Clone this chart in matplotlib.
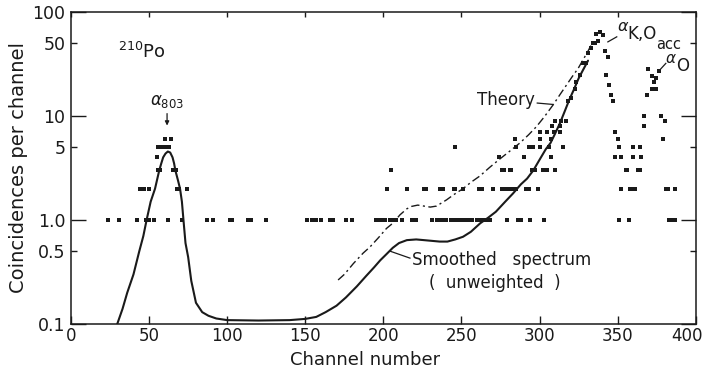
import matplotlib
matplotlib.use("Agg")
import matplotlib.pyplot as plt
import matplotlib.transforms as mtransforms
from matplotlib.ticker import FixedLocator, FixedFormatter, NullLocator

# ---- smoothed (unweighted) spectrum, read channel by channel ----
smooth_ch = [29.6, 33, 36, 40, 43.7, 46.3, 48.4, 51, 53.8, 56.5, 57.8, 59, 60.5, 62, 63.5, 65,
             66, 66.8, 68.5, 69.8, 71, 72, 73.3, 75, 77, 80, 84, 88, 93, 100, 120, 140, 150,
             157, 163, 170, 176, 183, 189, 194, 198, 202, 206, 210, 215, 221, 226, 231,
             236, 241, 246, 251, 256, 262, 267, 272, 278, 283, 288, 292, 296, 300, 304,
             307, 310, 313, 316, 319, 322, 325, 328, 331]
smooth_val = [0.1, 0.14, 0.2, 0.3, 0.5, 0.7, 1.0, 1.5, 2.0, 3.0, 3.5, 4.0, 4.35, 4.55, 4.45, 4.0,
              3.5, 3.0, 2.4, 2.0, 1.5, 1.0, 0.6, 0.44, 0.26, 0.16, 0.13, 0.12, 0.113, 0.109, 0.108,
              0.109, 0.112, 0.117, 0.13, 0.15, 0.18, 0.23, 0.29, 0.35, 0.41, 0.47, 0.54, 0.6,
              0.64, 0.65, 0.64, 0.63, 0.62, 0.62, 0.65, 0.69, 0.77, 0.93, 1.05, 1.2, 1.5, 1.8,
              2.2, 2.5, 3.0, 3.8, 4.8, 5.5, 6.8, 8.5, 11, 14.3, 18, 23, 28, 34]

# ---- theoretical spectrum ----
theory_ch = [171, 175, 180.7, 187, 191.4, 197, 202, 206, 210.6, 215, 218, 222, 226, 230,
             234, 240.4, 245, 251, 256, 261.8, 268, 274, 281, 287.4, 293, 298, 303, 308.7,
             313, 317.2, 321, 324.7, 328, 331, 333]
theory_val = [0.265, 0.3, 0.38, 0.48, 0.55, 0.68, 0.83, 0.93, 1.12, 1.28, 1.35, 1.39, 1.36,
              1.33, 1.36, 1.56, 1.75, 2.0, 2.3, 2.65, 3.2, 3.8, 4.6, 5.5, 6.6, 7.9, 9.8, 12.8,
              16, 19.8, 24, 28.7, 35, 42, 48]

# ---- measured coincidences per channel ----
ch_1 = [24, 31, 42, 48, 50, 53, 62, 71, 87, 91, 102, 103, 113, 115, 125, 151, 154, 157,
        160, 166, 168, 176, 180, 195, 197, 199, 201, 204, 206, 208, 212, 218, 221, 231,
        234, 236, 238, 240, 243, 245, 247, 249, 251, 253, 255, 257, 260, 262, 264, 266,
        268, 279, 286, 288, 294, 303, 351, 357, 383, 385, 387]
ch_2 = [44, 45, 47, 50, 68, 69, 74, 202, 215, 226, 227, 236, 238, 245, 246, 251, 261, 263,
        270, 276, 277, 279, 281, 283, 285, 291, 293, 299, 352, 358, 359, 361, 381, 382, 387]
ch_3 = [56, 57, 65, 67, 205, 276, 277, 281, 282, 295, 297, 302, 305, 310, 355, 356, 363, 364]
ch_4 = [55, 274, 290, 307, 352, 348, 360, 365]
ch_5 = [56, 58, 60, 63, 246, 285, 293, 295, 296, 300, 306, 315, 351, 360, 364]
ch_6 = [60, 64, 284, 300, 307, 350, 379]
ch_7 = [300, 305, 309, 313, 348]
ch_8 = [308, 313, 367]
ch_9 = [310, 314, 317, 380]
ch_10 = [367, 378]
peak_ch = [318, 320, 322.6, 323.5, 325.8, 327.9, 329.6, 331.1, 333.2, 334.3, 335.4, 336.4,
           337.5, 338.6, 340.3, 341.8, 342.8, 343.9, 344.5, 346, 347,
           368.8, 369.5, 371.7, 371.7, 373.1, 374.8, 374.8, 376.5]
peak_val = [14, 15, 18, 21, 25, 32, 32, 40, 45, 50, 50, 62, 52, 64, 60, 42, 25, 37, 20, 16, 14,
            16, 28, 24, 18, 21, 23, 18, 27]

y_major = [0.1, 1.0, 10, 100]
y_major_labels = ["0.1", "1.0", "10", "100"]
y_minor = [0.5, 5, 50]
y_minor_labels = ["0.5", "5", "50"]
x_ticks = [0, 50, 100, 150, 200, 250, 300, 350, 400]

plt.rcParams["font.family"] = ["DejaVu Sans"]

fig = plt.figure(figsize=(7.10, 3.72), dpi=100)
ax = fig.add_axes([0.1, 0.129, 0.88, 0.839])
ax.set_yscale("log")
ax.set_xlim(0, 400)
ax.set_ylim(0.1, 100)

ink = "#1a1a1a"

ax.plot(smooth_ch, smooth_val, color=ink, lw=1.5, solid_capstyle="round",
        solid_joinstyle="round")
ax.plot(theory_ch, theory_val, color=ink, lw=1.0, dashes=(6, 2.5, 1.5, 2.5))

dot_groups = [(ch_1, 1), (ch_2, 2), (ch_3, 3), (ch_4, 4), (ch_5, 5), (ch_6, 6),
              (ch_7, 7), (ch_8, 8), (ch_9, 9), (ch_10, 10)]
for chans, n in dot_groups:
    ax.plot(chans, [n] * len(chans), ls="none", marker="s", ms=2.4, color=ink, mew=0)
ax.plot(peak_ch, peak_val, ls="none", marker="s", ms=2.4, color=ink, mew=0)

# axes styling
for s in ax.spines.values():
    s.set_linewidth(1.1)
    s.set_color(ink)

ax.yaxis.set_major_locator(FixedLocator(y_major))
ax.yaxis.set_major_formatter(FixedFormatter(y_major_labels))
ax.yaxis.set_minor_locator(FixedLocator(y_minor))
ax.yaxis.set_minor_formatter(FixedFormatter(y_minor_labels))
ax.tick_params(axis="y", which="major", direction="in", length=11, width=1.0,
               right=True, labelsize=12.5, pad=4, colors=ink)
ax.tick_params(axis="y", which="minor", direction="in", length=4.5, width=1.0,
               right=True, labelsize=12.5, pad=4, colors=ink)

ax.set_xticks(x_ticks)
ax.set_xticklabels([str(v) for v in x_ticks])
ax.xaxis.set_minor_locator(NullLocator())
ax.tick_params(axis="x", direction="in", length=6, width=1.0, labelsize=12, pad=2,
               colors=ink)
# keep the last channel label inside the figure
last = ax.get_xticklabels()[-1]
last.set_transform(last.get_transform() +
                   mtransforms.ScaledTranslation(-9 / 100, 0, fig.dpi_scale_trans))

top = ax.secondary_xaxis("top")
top.set_xticks(x_ticks)
top.set_xticklabels([])
top.tick_params(direction="in", length=3.5, width=1.0, colors=ink)
top.spines["top"].set_visible(False)

ax.set_ylabel("Coincidences per channel", fontsize=14, labelpad=3, color=ink)
ax.set_xlabel("Channel number", fontsize=13, labelpad=0, color=ink)
ax.xaxis.set_label_coords(0.47, -0.085)

# annotations
ax.text(30, 41, r"$^{210}$Po", fontsize=13, ha="left", va="center", color=ink)
ax.text(61.5, 11.3, r"$\alpha_{803}$", fontsize=12, ha="center", va="bottom", color=ink)
ax.annotate("", xy=(61.5, 7.6), xytext=(61.5, 11.2),
            arrowprops=dict(arrowstyle="-|>", lw=0.9, color=ink, mutation_scale=6))
ax.text(297, 14.3, "Theory", fontsize=12, ha="right", va="center", color=ink)
ax.plot([298.5, 308.5], [13.3, 12.9], color=ink, lw=0.9)
ax.text(218.5, 0.41, "Smoothed   spectrum", fontsize=12, ha="left", va="center", color=ink)
ax.text(229.5, 0.25, "(  unweighted  )", fontsize=12, ha="left", va="center", color=ink)
ax.plot([217, 204.5], [0.43, 0.50], color=ink, lw=0.9)
ax.text(349.5, 72, r"$\alpha$", fontsize=11.5, ha="left", va="center", color=ink)
ax.text(356.5, 61, "K,O", fontsize=12, ha="left", va="center", color=ink)
ax.plot([343.7, 349.4], [51.5, 57.6], color=ink, lw=0.9)
ax.text(374.5, 49, "acc", fontsize=10.5, ha="left", va="center", color=ink)
ax.text(380.6, 36, r"$\alpha$", fontsize=11, ha="left", va="center", color=ink)
ax.text(387.6, 30.5, "O", fontsize=12, ha="left", va="center", color=ink)
ax.plot([376.3, 380.8], [27, 32], color=ink, lw=0.9)

fig.savefig("out.png", dpi=100, facecolor="white")
